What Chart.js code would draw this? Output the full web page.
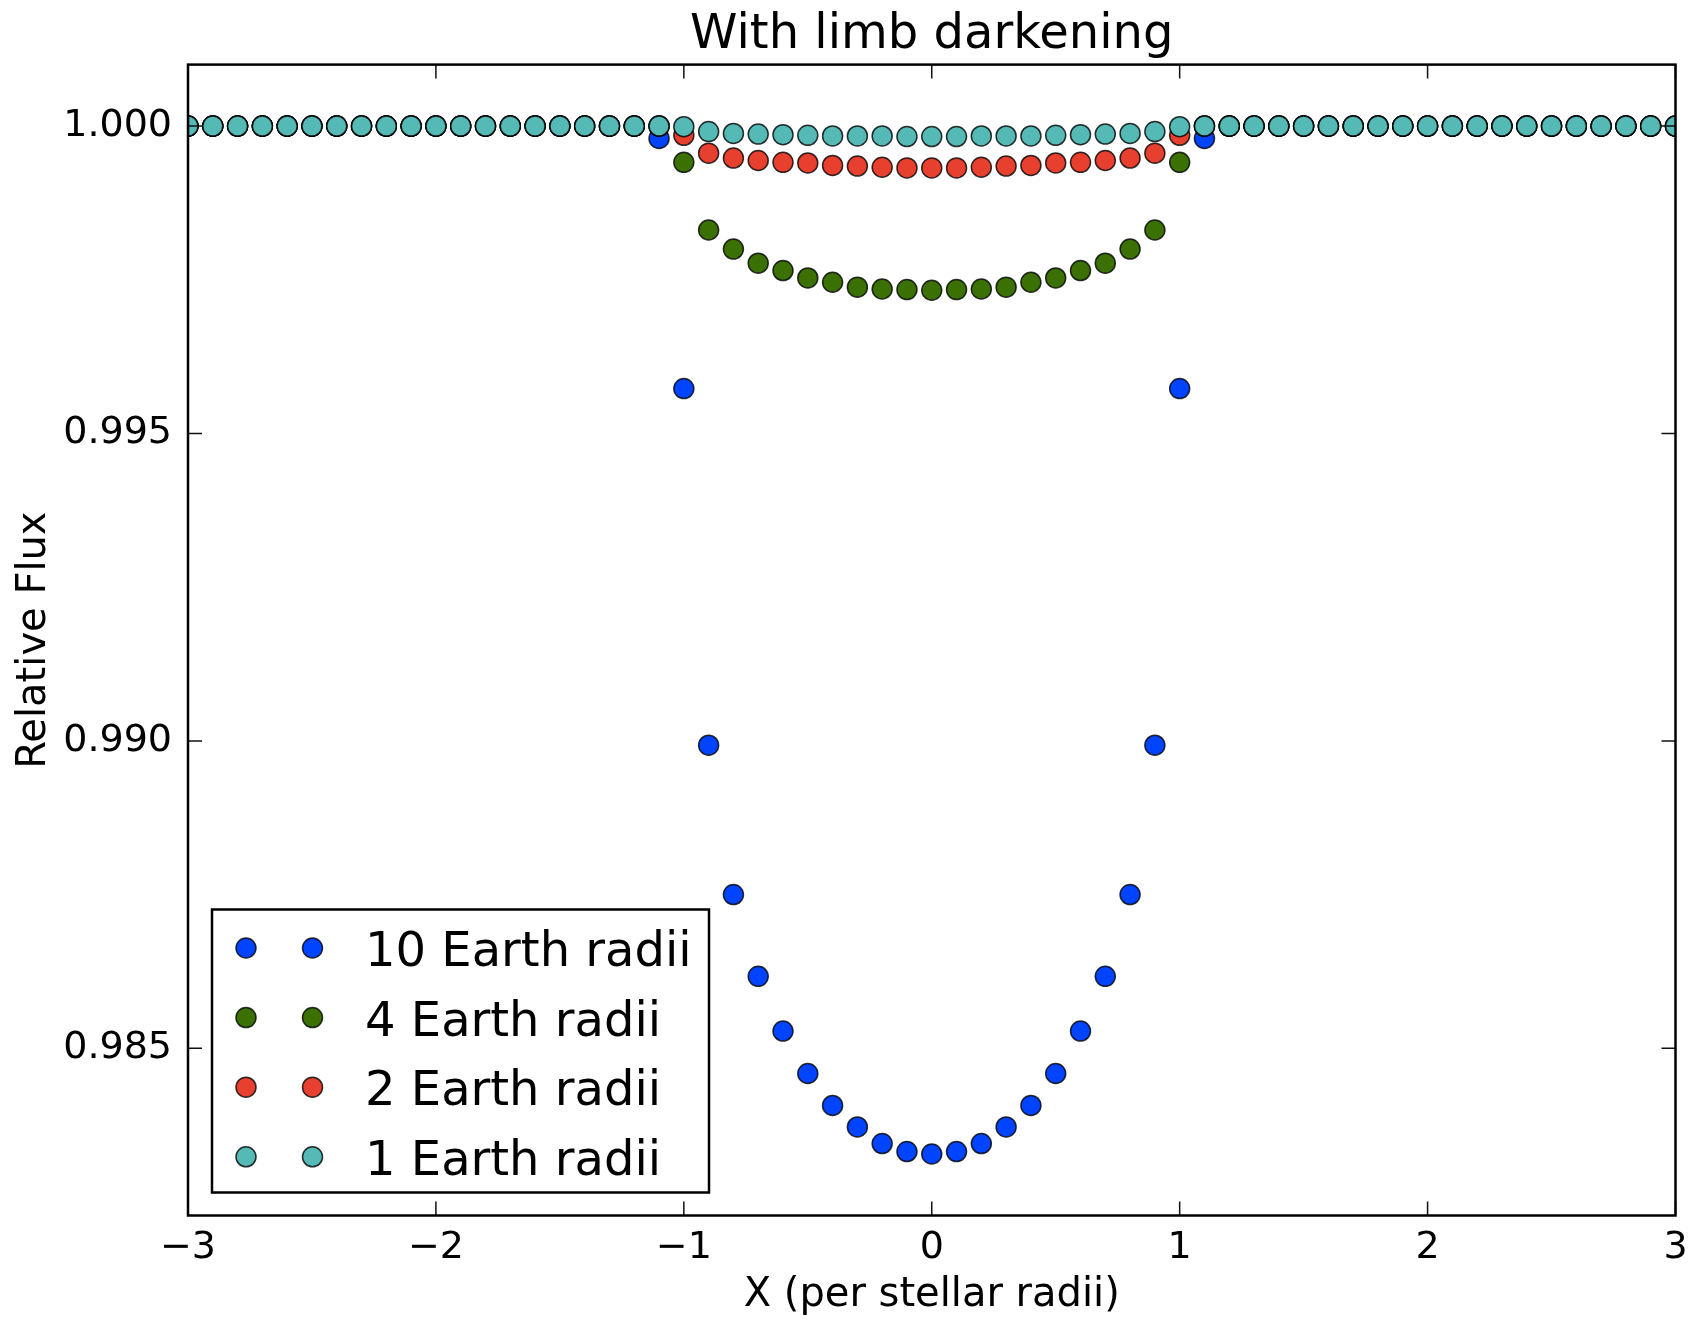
<!DOCTYPE html>
<html>
<head>
<meta charset="utf-8">
<script src="https://cdn.jsdelivr.net/npm/chart.js@4.4.1/dist/chart.umd.min.js"></script>
<style>
  html, body { margin: 0; padding: 0; background: #fff; }
  canvas { display: block; }
</style>
</head>
<body>
<canvas id="transit" width="1693" height="1322"></canvas>
<script>
// planet position along the chord, in stellar radii
const positions = [
  -3.0, -2.9, -2.8, -2.7, -2.6, -2.5, -2.4, -2.3, -2.2, -2.1,
  -2.0, -1.9, -1.8, -1.7, -1.6, -1.5, -1.4, -1.3, -1.2, -1.1,
  -1.0, -0.9, -0.8, -0.7, -0.6, -0.5, -0.4, -0.3, -0.2, -0.1,
   0.0,
   0.1,  0.2,  0.3,  0.4,  0.5,  0.6,  0.7,  0.8,  0.9,  1.0,
   1.1,  1.2,  1.3,  1.4,  1.5,  1.6,  1.7,  1.8,  1.9,  2.0,
   2.1,  2.2,  2.3,  2.4,  2.5,  2.6,  2.7,  2.8,  2.9,  3.0
]

const flux10 = [
  1.0, 1.0, 1.0, 1.0, 1.0, 1.0, 1.0, 1.0, 1.0, 1.0,
  1.0, 1.0, 1.0, 1.0, 1.0, 1.0, 1.0, 1.0, 1.0, 0.99980,
  0.99573, 0.98993, 0.98750, 0.98617, 0.98528, 0.98459, 0.98407, 0.98372, 0.98345, 0.98332,
  0.98328,
  0.98332, 0.98345, 0.98372, 0.98407, 0.98459, 0.98528, 0.98617, 0.98750, 0.98993, 0.99573,
  0.99980, 1.0, 1.0, 1.0, 1.0, 1.0, 1.0, 1.0, 1.0, 1.0,
  1.0, 1.0, 1.0, 1.0, 1.0, 1.0, 1.0, 1.0, 1.0, 1.0
]

const flux4 = [
  1.0, 1.0, 1.0, 1.0, 1.0, 1.0, 1.0, 1.0, 1.0, 1.0,
  1.0, 1.0, 1.0, 1.0, 1.0, 1.0, 1.0, 1.0, 1.0, 1.0,
  0.99941, 0.99831, 0.99800, 0.99777, 0.99765, 0.99753, 0.99746, 0.99738, 0.99735, 0.99734,
  0.99733,
  0.99734, 0.99735, 0.99738, 0.99746, 0.99753, 0.99765, 0.99777, 0.99800, 0.99831, 0.99941,
  1.0, 1.0, 1.0, 1.0, 1.0, 1.0, 1.0, 1.0, 1.0, 1.0,
  1.0, 1.0, 1.0, 1.0, 1.0, 1.0, 1.0, 1.0, 1.0, 1.0
]

const flux2 = [
  1.0, 1.0, 1.0, 1.0, 1.0, 1.0, 1.0, 1.0, 1.0, 1.0,
  1.0, 1.0, 1.0, 1.0, 1.0, 1.0, 1.0, 1.0, 1.0, 1.0,
  0.99985, 0.99956, 0.99948, 0.99944, 0.99941, 0.99940, 0.99936, 0.99935, 0.99933, 0.99932,
  0.99932,
  0.99932, 0.99933, 0.99935, 0.99936, 0.99940, 0.99941, 0.99944, 0.99948, 0.99956, 0.99985,
  1.0, 1.0, 1.0, 1.0, 1.0, 1.0, 1.0, 1.0, 1.0, 1.0,
  1.0, 1.0, 1.0, 1.0, 1.0, 1.0, 1.0, 1.0, 1.0, 1.0
]

const flux1 = [
  1.0, 1.0, 1.0, 1.0, 1.0, 1.0, 1.0, 1.0, 1.0, 1.0,
  1.0, 1.0, 1.0, 1.0, 1.0, 1.0, 1.0, 1.0, 1.0, 1.0,
  0.99999, 0.99991, 0.99988, 0.99987, 0.99986, 0.99985, 0.99984, 0.99984, 0.99984, 0.99983,
  0.99983,
  0.99983, 0.99984, 0.99984, 0.99984, 0.99985, 0.99986, 0.99987, 0.99988, 0.99991, 0.99999,
  1.0, 1.0, 1.0, 1.0, 1.0, 1.0, 1.0, 1.0, 1.0, 1.0,
  1.0, 1.0, 1.0, 1.0, 1.0, 1.0, 1.0, 1.0, 1.0, 1.0
]

const seriesLabels = ["10 Earth radii", "4 Earth radii", "2 Earth radii", "1 Earth radii"]
const seriesColors = ["#0044ff", "#3a7102", "#e8402f", "#55b9b5"]
const seriesFlux = [flux10, flux4, flux2, flux1]

const xTicks = [-3, -2, -1, 0, 1, 2, 3]
const yTicks = [0.985, 0.990, 0.995, 1.000]

const FONT = "'DejaVu Sans', 'Liberation Sans', sans-serif"
Chart.defaults.font.family = FONT
Chart.defaults.color = "#000"

const datasets = seriesLabels.map((label, i) => ({
    label: label,
    data: positions.map((x, j) => ({x: x, y: seriesFlux[i][j]})),
    backgroundColor: seriesColors[i],
    borderColor: "rgba(0, 0, 0, 0.8)",
    pointBorderWidth: 1.5,
    pointRadius: 10,
    pointHoverRadius: 10,
    showLine: false,
    clip: 0,
    // last series drawn on top, like matplotlib
    order: seriesLabels.length - i
}))

// inward ticks on all four sides + the black frame
const framePlugin = {
    id: "frame",
    afterDatasetsDraw(chart) {
        const {ctx, chartArea: a, scales} = chart
        const len = 14
        ctx.save()
        ctx.strokeStyle = "#111"
        ctx.lineWidth = 1.5
        ctx.beginPath()
        xTicks.forEach(v => {
            const px = scales.x.getPixelForValue(v)
            ctx.moveTo(px, a.bottom); ctx.lineTo(px, a.bottom - len)
            ctx.moveTo(px, a.top); ctx.lineTo(px, a.top + len)
        })
        yTicks.forEach(v => {
            const py = scales.y.getPixelForValue(v)
            ctx.moveTo(a.left, py); ctx.lineTo(a.left + len, py)
            ctx.moveTo(a.right, py); ctx.lineTo(a.right - len, py)
        })
        ctx.stroke()
        ctx.strokeStyle = "#000"
        ctx.lineWidth = 2.5
        ctx.strokeRect(a.left, a.top, a.right - a.left, a.bottom - a.top)
        ctx.restore()
    }
}

// matplotlib-style legend: two markers per entry, lower left
const legendPlugin = {
    id: "boxLegend",
    afterDraw(chart) {
        const {ctx, chartArea: a} = chart
        const left = a.left + 24, right = left + 497
        const bottom = a.bottom - 23, top = bottom - 283
        const rowGap = 69.6, firstRow = top + 38.5
        ctx.save()
        ctx.fillStyle = "#fff"
        ctx.fillRect(left, top, right - left, bottom - top)
        ctx.strokeStyle = "#000"
        ctx.lineWidth = 2.5
        ctx.strokeRect(left, top, right - left, bottom - top)
        chart.data.datasets.forEach((ds, i) => {
            const cy = firstRow + i * rowGap
            ;[left + 34, left + 100.5].forEach(cx => {
                ctx.beginPath()
                ctx.arc(cx, cy, 10, 0, Math.PI * 2)
                ctx.fillStyle = ds.backgroundColor
                ctx.fill()
                ctx.lineWidth = 1.5
                ctx.strokeStyle = "rgba(0, 0, 0, 0.8)"
                ctx.stroke()
            })
            ctx.fillStyle = "#000"
            ctx.font = "48px " + FONT
            ctx.textAlign = "left"
            ctx.textBaseline = "alphabetic"
            ctx.fillText(ds.label, left + 153, cy + 18)
        })
        ctx.restore()
    }
}

new Chart(document.getElementById("transit"), {
    type: "scatter",
    data: {datasets: datasets},
    plugins: [framePlugin, legendPlugin],
    options: {
        responsive: false,
        animation: false,
        devicePixelRatio: 1,
        events: [],
        layout: {
            padding: {left: 0, right: 17.5, top: 0, bottom: 0}
        },
        scales: {
            x: {
                type: "linear",
                min: -3,
                max: 3,
                grid: {display: false},
                border: {display: false},
                afterBuildTicks: s => { s.ticks = xTicks.map(v => ({value: v})) },
                afterFit: s => {
                    s.height = 106.5
                    s.paddingLeft = 0
                    s.paddingRight = 0
                },
                ticks: {
                    autoSkip: false,
                    maxRotation: 0,
                    padding: 1.5,
                    font: {size: 38},
                    color: "#000",
                    callback: v => v < 0 ? "\u2212" + Math.abs(v) : String(v)
                },
                title: {
                    display: true,
                    text: "X (per stellar radii)",
                    font: {size: 40},
                    color: "#000",
                    padding: {top: 0, bottom: 2}
                }
            },
            y: {
                type: "linear",
                min: 0.98228,
                max: 1.001,
                grid: {display: false},
                border: {display: false},
                afterBuildTicks: s => { s.ticks = yTicks.map(v => ({value: v})) },
                afterFit: s => {
                    s.width = 188
                    s.paddingTop = 0
                    s.paddingBottom = 0
                },
                ticks: {
                    padding: 8,
                    font: {size: 38},
                    color: "#000",
                    callback: v => v.toFixed(3)
                },
                title: {
                    display: true,
                    text: "Relative Flux",
                    font: {size: 40},
                    color: "#000",
                    padding: {top: 11, bottom: 0}
                }
            }
        },
        plugins: {
            legend: {display: false},
            tooltip: {enabled: false},
            title: {
                display: true,
                text: "With limb darkening",
                fullSize: false,
                font: {size: 48, weight: "normal"},
                color: "#000",
                padding: {top: 7, bottom: 0}
            }
        }
    }
})
</script>
</body>
</html>
